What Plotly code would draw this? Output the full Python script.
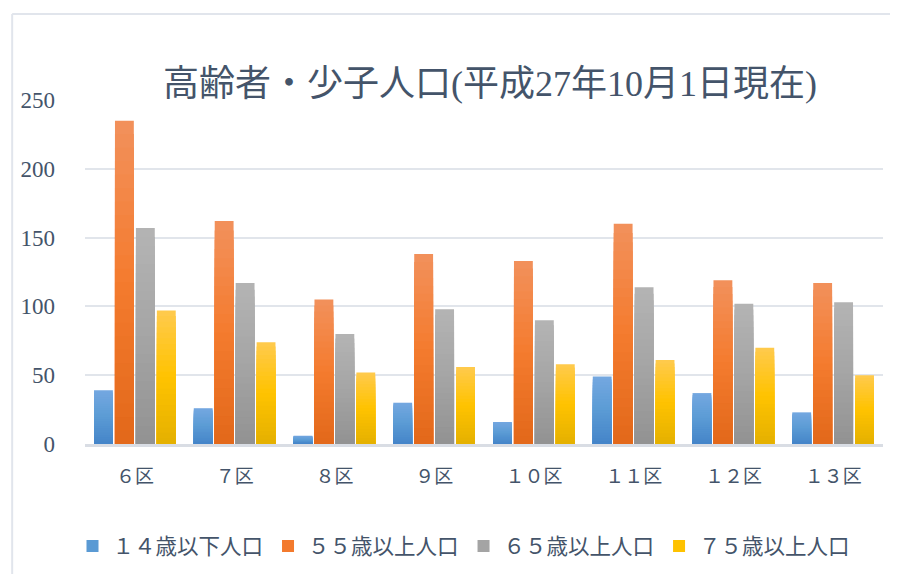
import plotly.graph_objects as go

categories = ["６区", "７区", "８区", "９区", "１０区", "１１区", "１２区", "１３区"]
series_names = ["１４歳以下人口", "５５歳以上人口", "６５歳以上人口", "７５歳以上人口"]
age14_under = [39, 26, 6, 30, 16, 49, 37, 23]
age55_over = [235, 162, 105, 138, 133, 160, 119, 117]
age65_over = [157, 117, 80, 98, 90, 114, 102, 103]
age75_over = [97, 74, 52, 56, 58, 61, 70, 50]
y_ticks = [0, 50, 100, 150, 200, 250]

series_values = [age14_under, age55_over, age65_over, age75_over]
# gradient stops: (bottom, middle, top)
gradients = [
    ("#4484C8", "#5B9BD5", "#74A8E0"),
    ("#E2681A", "#F47B2E", "#F2915C"),
    ("#929292", "#A5A5A5", "#B4B4B4"),
    ("#E4B000", "#FFC300", "#FFCA4E"),
]

def hex2rgb(h):
    h = h.lstrip("#")
    return [int(h[i:i + 2], 16) for i in (0, 2, 4)]

def interp(stops, t):
    b, m, tp = [hex2rgb(s) for s in stops]
    if t <= 0.5:
        a, c, f = b, m, t / 0.5
    else:
        a, c, f = m, tp, (t - 0.5) / 0.5
    return "rgb(%d,%d,%d)" % tuple(round(a[i] + (c[i] - a[i]) * f) for i in range(3))

N = 24
fig = go.Figure()
for si, (name, vals) in enumerate(zip(series_names, series_values)):
    stops = gradients[si]
    for k in range(N):
        frac = (N - k) / N
        fig.add_trace(go.Bar(
            x=categories,
            y=[v * frac for v in vals],
            name=name,
            offsetgroup=str(si),
            legendgroup=str(si),
            showlegend=(k == N // 2),
            marker=dict(color=interp(stops, frac - 0.5 / N), line=dict(width=0)),
            hoverinfo="skip" if k else None,
        ))

W, H = 898, 574
L, T, PW, PH = 75, 92, 800, 344
fig.update_layout(
    width=W, height=H,
    margin=dict(l=L, r=W - L - PW, t=T, b=H - T - PH),
    paper_bgcolor="white", plot_bgcolor="white",
    barmode="group", bargap=0.16, bargroupgap=0.1,
    title=dict(
        text="高齢者・少子人口(平成27年10月1日現在)",
        font=dict(family="Liberation Serif, Noto Sans CJK JP", size=36, color="#44546A"),
        x=482 / W, xanchor="center", y=1 - 75 / H, yanchor="middle", yref="container",
    ),
    xaxis=dict(
        tickfont=dict(family="Noto Sans CJK JP", size=19, color="#44546A"),
        showgrid=False, showline=True, linecolor="#D9DDE4", linewidth=3,
        ticks="", ticklabelstandoff=13,
    ),
    yaxis=dict(
        range=[0, 250], tickvals=y_ticks,
        tickfont=dict(family="Liberation Serif", size=23, color="#44546A"),
        showgrid=True, gridcolor="#E1E5EB", gridwidth=2,
        zeroline=False, showline=False, ticks="", ticklabelstandoff=29,
    ),
    legend=dict(
        orientation="h", xref="container", yref="container",
        x=456 / W, xanchor="center", y=(H - 538) / H, yanchor="middle",
        font=dict(family="Noto Sans CJK JP", size=21.5, color="#44546A"),
        itemwidth=30, traceorder="normal",
    ),
    shapes=[
        dict(type="line", xref="paper", yref="paper", x0=(2 - L) / PW, x1=(W - L) / PW,
             y0=(T + PH - 6) / PH, y1=(T + PH - 6) / PH, line=dict(color="#E1E5EC", width=2)),
        dict(type="line", xref="paper", yref="paper", x0=(2 - L) / PW, x1=(2 - L) / PW,
             y0=(T + PH - 6) / PH, y1=(T + PH - H - 10) / PH, line=dict(color="#E1E5EC", width=2)),
    ],
)

fig.write_html("out.html")
